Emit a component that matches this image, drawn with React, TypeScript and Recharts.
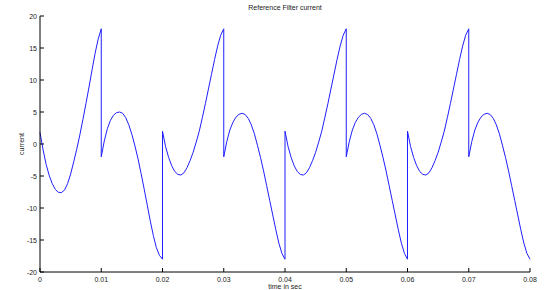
import { LineChart, Line, XAxis, YAxis } from "recharts";

// sample times inside one half period (sec)
const TAU = [
  0, 0.0005, 0.001, 0.0015, 0.002, 0.0025, 0.003, 0.0035, 0.004, 0.0045, 0.005,
  0.0055, 0.006, 0.0065, 0.007, 0.0075, 0.008, 0.0085, 0.009, 0.0095, 0.01,
];

// current, one array per 0.01 s segment
const SEG_0 = [1.8, -0.9, -3.2, -4.9, -6.2, -7.1, -7.55, -7.6, -7.2, -6.2, -4.7, -2.8, -0.8, 1.4, 3.8, 6.3, 8.9, 11.6, 14.2, 16.4, 18.0];
const SEG_1 = [-2.0, 0.5, 2.4, 3.7, 4.5, 4.9, 5.0, 4.8, 4.1, 3.0, 1.5, -0.3, -2.3, -4.6, -7.0, -9.5, -12.0, -14.3, -16.2, -17.4, -18.0];
const SEG_2 = [2.0, -0.4, -2.1, -3.4, -4.3, -4.75, -4.85, -4.5, -3.7, -2.6, -1.3, 0.3, 2.0, 4.1, 6.3, 8.6, 10.9, 13.2, 15.3, 17.0, 18.0];
const SEG_3 = [-2.0, 0.4, 2.2, 3.4, 4.2, 4.65, 4.8, 4.6, 4.0, 3.0, 1.6, -0.2, -2.1, -4.2, -6.5, -8.8, -11.1, -13.4, -15.5, -17.1, -18.0];
const SEG_4 = [2.0, -0.4, -2.1, -3.4, -4.3, -4.75, -4.85, -4.5, -3.7, -2.6, -1.3, 0.3, 2.0, 4.1, 6.3, 8.6, 10.9, 13.2, 15.3, 17.0, 18.0];
const SEG_5 = [-2.0, 0.4, 2.2, 3.4, 4.2, 4.65, 4.8, 4.6, 4.0, 3.0, 1.6, -0.2, -2.1, -4.2, -6.5, -8.8, -11.1, -13.4, -15.5, -17.1, -18.0];
const SEG_6 = [2.0, -0.4, -2.1, -3.4, -4.3, -4.75, -4.85, -4.5, -3.7, -2.6, -1.3, 0.3, 2.0, 4.1, 6.3, 8.6, 10.9, 13.2, 15.3, 17.0, 18.0];
const SEG_7 = [-2.0, 0.4, 2.2, 3.4, 4.2, 4.65, 4.8, 4.6, 4.0, 3.0, 1.6, -0.2, -2.1, -4.2, -6.5, -8.8, -11.1, -13.4, -15.5, -17.1, -18.0];

const SEGMENTS = [SEG_0, SEG_1, SEG_2, SEG_3, SEG_4, SEG_5, SEG_6, SEG_7];
const SEG_LENGTH = 0.01;

const X_TICKS = [0, 0.01, 0.02, 0.03, 0.04, 0.05, 0.06, 0.07, 0.08];
const X_TICK_LABELS = ["0", "0.01", "0.02", "0.03", "0.04", "0.05", "0.06", "0.07", "0.08"];
const Y_TICKS = [-20, -15, -10, -5, 0, 5, 10, 15, 20];

const data = SEGMENTS.flatMap((seg, k) =>
  seg.map((v, i) => ({ t: k * SEG_LENGTH + TAU[i], current: v }))
);

const FONT = "'Liberation Sans', Arial, sans-serif";
const TEXT = "#222";
const TICK_LEN = 4;

const BottomTick = ({ x, y, index }: any) => (
  <g>
    <line x1={x} y1={y} x2={x} y2={y - TICK_LEN} stroke="#000" />
    <text x={x} y={y + 10} textAnchor="middle" fontSize={7} fill={TEXT} fontFamily={FONT}>
      {X_TICK_LABELS[index]}
    </text>
  </g>
);

const TopTick = ({ x, y }: any) => (
  <line x1={x} y1={y} x2={x} y2={y + TICK_LEN} stroke="#000" />
);

const LeftTick = ({ x, y, payload }: any) => (
  <g>
    <line x1={x} y1={y} x2={x + TICK_LEN} y2={y} stroke="#000" />
    <text x={x - 3} y={y + 2.5} textAnchor="end" fontSize={7} fill={TEXT} fontFamily={FONT}>
      {payload.value}
    </text>
  </g>
);

const RightTick = ({ x, y }: any) => (
  <line x1={x} y1={y} x2={x - TICK_LEN} y2={y} stroke="#000" />
);

export default function App() {
  return (
    <div style={{ position: "absolute", left: 0, top: 0, width: 555, height: 290, background: "#fff" }}>
      <LineChart width={555} height={290} data={data} margin={{ top: 16, right: 25, bottom: 0, left: 10 }}>
        <XAxis
          dataKey="t"
          type="number"
          domain={[0, 0.08]}
          ticks={X_TICKS}
          interval={0}
          height={18}
          tickSize={0}
          tickMargin={0}
          tickLine={false}
          axisLine={{ stroke: "#000" }}
          tick={<BottomTick />}
        />
        <XAxis
          xAxisId="top"
          orientation="top"
          type="number"
          dataKey="t"
          domain={[0, 0.08]}
          ticks={X_TICKS}
          interval={0}
          height={0}
          tickSize={0}
          tickMargin={0}
          tickLine={false}
          axisLine={{ stroke: "#000" }}
          tick={<TopTick />}
        />
        <YAxis
          type="number"
          domain={[-20, 20]}
          ticks={Y_TICKS}
          interval={0}
          width={30}
          tickSize={0}
          tickMargin={0}
          tickLine={false}
          axisLine={{ stroke: "#000" }}
          tick={<LeftTick />}
        />
        <YAxis
          yAxisId="right"
          orientation="right"
          type="number"
          domain={[-20, 20]}
          ticks={Y_TICKS}
          interval={0}
          width={0}
          tickSize={0}
          tickMargin={0}
          tickLine={false}
          axisLine={{ stroke: "#000" }}
          tick={<RightTick />}
        />
        <Line
          type="linear"
          dataKey="current"
          stroke="#1f1fff"
          strokeWidth={1}
          dot={false}
          isAnimationActive={false}
        />
        <text x={285} y={10} textAnchor="middle" fontSize={7} fill={TEXT} fontFamily={FONT}>
          Reference Filter current
        </text>
        <text x={285} y={289} textAnchor="middle" fontSize={7} fill={TEXT} fontFamily={FONT}>
          time in sec
        </text>
        <text
          x={24}
          y={144}
          transform="rotate(-90 24 144)"
          textAnchor="middle"
          fontSize={7}
          fill={TEXT}
          fontFamily={FONT}
        >
          current
        </text>
      </LineChart>
    </div>
  );
}
